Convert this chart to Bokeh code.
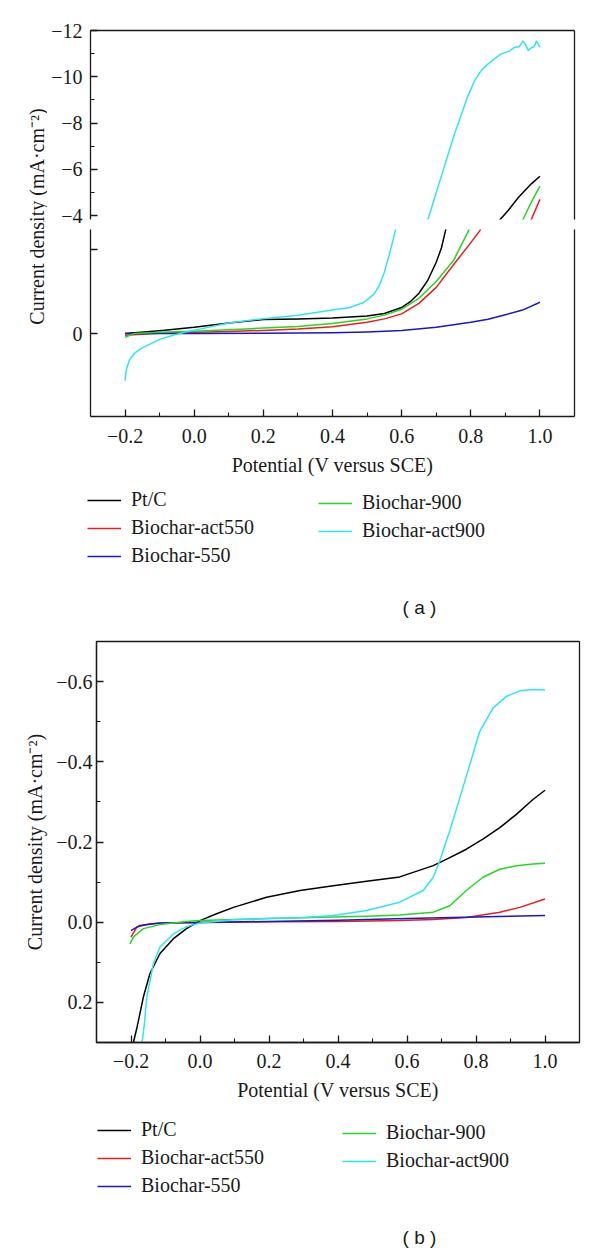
from math import pi
from bokeh.plotting import figure
from bokeh.layouts import column, row
from bokeh.models import (Range1d, LinearAxis, FixedTicker, Legend, LegendItem,
                          Label, CustomJSTickFormatter)
from bokeh.embed import file_html
from bokeh.resources import INLINE

SERIF = "Liberation Serif"
SANS = "Liberation Sans"
TXT = "#1a1a1a"

NAMES = ["Pt/C", "Biochar-act550", "Biochar-550", "Biochar-900", "Biochar-act900"]
COLORS = ["#000000", "#ee1c1c", "#1818c8", "#22d822", "#2ee6f2"]

X_LABEL = "Potential (V versus SCE)"
Y_LABEL = "Current density (mA\u00b7cm\u207b\u00b2)"
CAPTIONS = ["( a )", "( b )"]

X_TICKS = [-0.2, 0.0, 0.2, 0.4, 0.6, 0.8, 1.0]
X_MINOR = [-0.1, 0.1, 0.3, 0.5, 0.7, 0.9]
A_UP_TICKS = [-12, -10, -8, -6, -4]
A_UP_MINOR = [-11, -9, -7, -5]
A_LOW_TICKS = [0, -1]
B_Y_TICKS = [-0.6, -0.4, -0.2, 0.0, 0.2]
B_Y_MINOR = [-0.5, -0.3, -0.1, 0.1]

X_LIM = (-0.3, 1.1)
A_UP_LIM = (-3.84, -12.0)    # (bottom, top) of the upper part of the broken axis
A_LOW_LIM = (0.988, -1.24)   # (bottom, top) of the lower part
B_Y_LIM = (0.3, -0.7)

# ---------------- panel (a) ----------------
a_ptc_v = [-0.2, -0.1, 0.0, 0.1, 0.2, 0.3, 0.4, 0.5, 0.55, 0.6, 0.625, 0.65, 0.675, 0.7, 0.715,
           0.727, 0.885, 0.908, 0.937, 0.975, 1.0]
a_ptc_j = [0.0, -0.035, -0.075, -0.125, -0.168, -0.175, -0.186, -0.21, -0.24, -0.31, -0.38,
           -0.48, -0.63, -0.85, -1.02, -1.23, -3.84, -4.23, -4.78, -5.38, -5.71]

a_act550_v = [-0.2, -0.1, 0.0, 0.1, 0.2, 0.3, 0.4, 0.5, 0.55, 0.6, 0.65, 0.7, 0.75, 0.79, 0.827,
              0.975, 1.0]
a_act550_j = [0.02, -0.005, -0.016, -0.025, -0.038, -0.055, -0.082, -0.135, -0.175, -0.235,
              -0.36, -0.55, -0.82, -1.03, -1.23, -3.84, -4.71]

a_550_v = [-0.2, 0.0, 0.2, 0.3, 0.4, 0.5, 0.6, 0.7, 0.8, 0.85, 0.9, 0.95, 1.0]
a_550_j = [0.0, 0.0, -0.003, -0.006, -0.01, -0.02, -0.036, -0.075, -0.135, -0.17, -0.225,
           -0.28, -0.373]

a_900_v = [-0.2, -0.174, -0.1, 0.0, 0.1, 0.2, 0.3, 0.4, 0.5, 0.55, 0.6, 0.65, 0.7, 0.75, 0.794,
           0.951, 0.975, 1.0]
a_900_j = [0.044, 0.0, -0.015, -0.028, -0.045, -0.065, -0.083, -0.12, -0.175, -0.22, -0.29,
           -0.42, -0.62, -0.87, -1.23, -3.84, -4.59, -5.28]

a_act900_v = [-0.2, -0.197, -0.188, -0.174, -0.154, -0.125, -0.096, -0.058, -0.019, 0.019, 0.1,
              0.2, 0.3, 0.4, 0.45, 0.49, 0.52, 0.535, 0.55, 0.565, 0.582,
              0.676, 0.714, 0.753, 0.792, 0.81, 0.83, 0.85, 0.87, 0.888, 0.91, 0.927, 0.94,
              0.951, 0.958, 0.966, 0.975, 0.983, 0.99, 1.0]
a_act900_j = [0.56, 0.44, 0.32, 0.24, 0.18, 0.12, 0.063, 0.016, -0.024, -0.056, -0.125,
              -0.178, -0.218, -0.28, -0.31, -0.37, -0.47, -0.57, -0.73, -0.95, -1.23,
              -3.84, -5.67, -7.54, -9.19, -9.8, -10.27, -10.56, -10.8, -10.99, -11.1, -11.28,
              -11.3, -11.54, -11.4, -11.14, -11.25, -11.3, -11.54, -11.28]

# ---------------- panel (b) ----------------
b_ptc_v = [-0.193, -0.182, -0.164, -0.145, -0.116, -0.077, -0.039, 0.0, 0.048, 0.097, 0.193,
           0.29, 0.386, 0.483, 0.579, 0.676, 0.724, 0.772, 0.82, 0.869, 0.917, 0.965, 1.0]
b_ptc_j = [0.30, 0.26, 0.186, 0.128, 0.078, 0.041, 0.016, -0.004, -0.021, -0.037, -0.062,
           -0.079, -0.091, -0.102, -0.113, -0.141, -0.161, -0.182, -0.207, -0.236, -0.269,
           -0.306, -0.329]

b_act550_v = [-0.2, -0.183, -0.145, -0.1, 0.0, 0.2, 0.4, 0.579, 0.676, 0.772, 0.869, 0.927, 1.0]
b_act550_j = [0.037, 0.012, 0.004, 0.002, 0.001, -0.001, -0.002, -0.004, -0.007, -0.012,
              -0.025, -0.037, -0.058]

b_550_v = [-0.2, -0.174, -0.116, 0.0, 0.2, 0.4, 0.6, 0.8, 1.0]
b_550_j = [0.021, 0.008, 0.002, 0.001, -0.002, -0.005, -0.009, -0.013, -0.017]

b_900_v = [-0.203, -0.193, -0.164, -0.116, -0.039, 0.0, 0.1, 0.2, 0.29, 0.386, 0.483, 0.579,
           0.676, 0.724, 0.772, 0.82, 0.869, 0.917, 0.965, 1.0]
b_900_j = [0.054, 0.037, 0.016, 0.006, -0.002, -0.004, -0.007, -0.009, -0.011, -0.013, -0.015,
           -0.018, -0.025, -0.041, -0.079, -0.112, -0.132, -0.141, -0.145, -0.147]

b_act900_v = [-0.168, -0.162, -0.154, -0.135, -0.116, -0.077, -0.039, 0.0, 0.097, 0.193, 0.29,
              0.386, 0.483, 0.579, 0.647, 0.676, 0.695, 0.724, 0.753, 0.782, 0.811, 0.849,
              0.888, 0.927, 0.965, 1.0]
b_act900_j = [0.30, 0.26, 0.186, 0.103, 0.062, 0.029, 0.011, 0.002, -0.006, -0.009, -0.011,
              -0.017, -0.029, -0.05, -0.079, -0.112, -0.153, -0.228, -0.31, -0.393, -0.476,
              -0.534, -0.563, -0.577, -0.58, -0.579]

A_SERIES = [(a_ptc_v, a_ptc_j), (a_act550_v, a_act550_j), (a_550_v, a_550_j),
            (a_900_v, a_900_j), (a_act900_v, a_act900_j)]
B_SERIES = [(b_ptc_v, b_ptc_j), (b_act550_v, b_act550_j), (b_550_v, b_550_j),
            (b_900_v, b_900_j), (b_act900_v, b_act900_j)]

FMT_1 = CustomJSTickFormatter(code="return (tick < -1e-9 ? '\u2212' : '') + Math.abs(tick).toFixed(1);")
FMT_0 = CustomJSTickFormatter(code="return (tick < -1e-9 ? '\u2212' : '') + Math.abs(tick).toFixed(0);")
FMT_ZERO = CustomJSTickFormatter(code="return Math.abs(tick) < 1e-9 ? '0' : '';")


def new_fig(**kw):
    p = figure(toolbar_location=None, output_backend="svg",
               x_axis_location=None, y_axis_location=None, **kw)
    p.grid.visible = False
    return p


def add_axis(p, side, ticks=(), minor=(), fmt=None, label=None, standoff=8, title_standoff=8):
    kw = {}
    if fmt is not None:
        kw["formatter"] = fmt
    ax = LinearAxis(ticker=FixedTicker(ticks=list(ticks), minor_ticks=list(minor)), **kw)
    ax.axis_line_color = TXT
    ax.axis_line_width = 1.3
    ax.major_tick_line_color = TXT
    ax.major_tick_line_width = 1.3
    ax.minor_tick_line_color = TXT
    ax.minor_tick_line_width = 1.1
    ax.major_tick_in = 7
    ax.major_tick_out = 0
    ax.minor_tick_in = 4
    ax.minor_tick_out = 0
    ax.major_label_standoff = standoff
    ax.major_label_text_font = SERIF
    ax.major_label_text_font_size = "20px"
    ax.major_label_text_color = TXT
    if label:
        ax.axis_label = label
        ax.axis_label_text_font = SERIF
        ax.axis_label_text_font_size = "20px"
        ax.axis_label_text_font_style = "normal"
        ax.axis_label_text_color = TXT
        ax.axis_label_standoff = title_standoff
    p.add_layout(ax, side)
    return ax


def draw(p, series):
    return [p.line(v, j, line_color=c, line_width=1.5, line_join="round")
            for (v, j), c in zip(series, COLORS)]


def legend_strip(height, series, x1, x2, y_bottom, caption, cap_x, cap_y):
    """Legend (two columns) and panel caption, drawn in a blank strip under a panel."""
    s = new_fig(frame_width=600, frame_height=height, min_border=0,
                x_range=Range1d(0, 1), y_range=Range1d(0, 1), outline_line_color=None)
    # hidden copies of the series: they only give the legend its line styles
    rs = [s.multi_line(xs=[v], ys=[j], line_color=c, line_width=1.5, visible=False)
          for (v, j), c in zip(series, COLORS)]
    items = [LegendItem(label=n, renderers=[r]) for n, r in zip(NAMES, rs)]
    for its, x, y in ((items[:3], x1, y_bottom), (items[3:], x2, y_bottom + 25)):
        s.add_layout(Legend(items=its, location=(x, y), orientation="vertical",
                            border_line_color=None, background_fill_alpha=0,
                            inactive_fill_alpha=0,
                            padding=0, margin=0, spacing=5, label_height=20,
                            glyph_height=20, glyph_width=34, label_standoff=10,
                            label_text_font=SERIF, label_text_font_size="20px",
                            label_text_color=TXT))
    s.add_layout(Label(x=cap_x, y=cap_y, x_units="screen", y_units="screen", text=caption,
                       text_align="center", text_baseline="middle",
                       text_font=SANS, text_font_size="19px", text_color=TXT))
    return s


FW_A = 484

# ---- (a) upper part of the broken axis ----
up_a = new_fig(frame_width=FW_A, frame_height=189, min_border_left=43, min_border_right=26,
               min_border_top=30, min_border_bottom=10,
               x_range=Range1d(*X_LIM), y_range=Range1d(*A_UP_LIM), outline_line_color=None)
add_axis(up_a, "left", A_UP_TICKS, A_UP_MINOR, FMT_0)
add_axis(up_a, "right")
add_axis(up_a, "above")
draw(up_a, A_SERIES)

# ---- (a) lower part ----
low_a = new_fig(frame_width=FW_A, frame_height=187, min_border_left=43, min_border_right=26,
                min_border_top=0, min_border_bottom=70,
                x_range=up_a.x_range, y_range=Range1d(*A_LOW_LIM), outline_line_color=None)
add_axis(low_a, "left", A_LOW_TICKS, (), FMT_ZERO)
add_axis(low_a, "right")
add_axis(low_a, "below", X_TICKS, X_MINOR, FMT_1, X_LABEL, standoff=12, title_standoff=8)
draw(low_a, A_SERIES)

# ---- (a) y-label strip (spans both parts) ----
ylab_a = new_fig(frame_width=47, frame_height=486, min_border=0,
                 x_range=Range1d(0, 1), y_range=Range1d(0, 1), outline_line_color=None)
ylab_a.add_layout(Label(x=36.5, y=270, x_units="screen", y_units="screen", text=Y_LABEL,
                        angle=pi / 2, text_align="center", text_baseline="middle",
                        text_font=SERIF, text_font_size="20px", text_color=TXT))

leg_a = legend_strip(139, A_SERIES, 87, 318, 58, CAPTIONS[0], 323, 18)

# ---- (b) ----
p_b = new_fig(frame_width=483, frame_height=401, min_border_left=96, min_border_right=21,
              min_border_top=16, min_border_bottom=70,
              x_range=Range1d(*X_LIM), y_range=Range1d(*B_Y_LIM),
              outline_line_color=TXT, outline_line_width=1.3)
add_axis(p_b, "left", B_Y_TICKS, B_Y_MINOR, FMT_1, Y_LABEL, standoff=4, title_standoff=7)
add_axis(p_b, "below", X_TICKS, X_MINOR, FMT_1, X_LABEL, standoff=11, title_standoff=8)
draw(p_b, B_SERIES)

leg_b = legend_strip(140, B_SERIES, 97, 342, 55, CAPTIONS[1], 323, 15)

layout = column(row(ylab_a, column(up_a, low_a)), leg_a, p_b, leg_b)

open("out.html", "w").write(file_html(layout, INLINE))
